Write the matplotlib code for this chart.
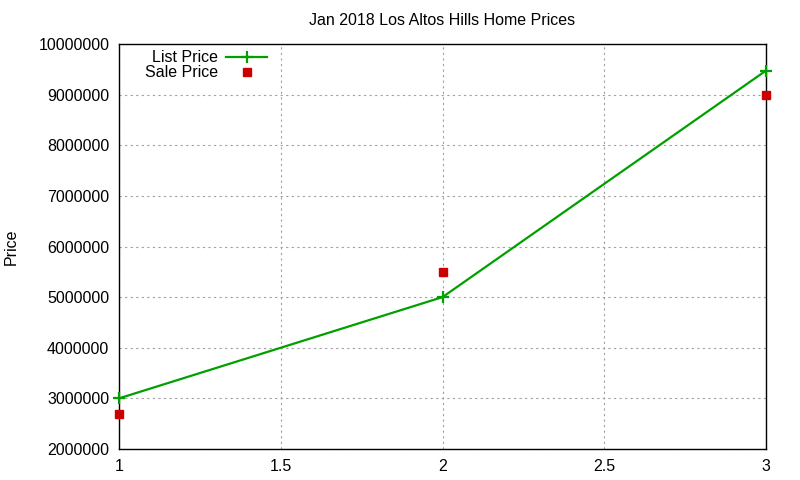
import matplotlib
matplotlib.use("Agg")
import matplotlib.pyplot as plt

plt.rcParams['font.family'] = ['Liberation Sans', 'DejaVu Sans']

# data
x = [1, 2, 3]
list_price = [3000000, 5000000, 9475000]
sale_price = [2700000, 5500000, 9000000]
yticks = [2000000, 3000000, 4000000, 5000000, 6000000, 7000000, 8000000, 9000000, 10000000]
xticks = [1, 1.5, 2, 2.5, 3]

fs = 11.5

fig = plt.figure(figsize=(8, 4.8), dpi=100)
ax = fig.add_axes([0.14875, 0.0646, 0.80875, 0.8437])

ax.plot(x, list_price, color='#00a000', lw=1.6, marker='+', ms=8, mew=1.6,
        label='List Price', clip_on=False, zorder=3)
ax.plot(x, sale_price, ls='none', color='#cc0000', marker='s', ms=6,
        label='Sale Price', clip_on=False, zorder=3)

ax.set_xlim(1, 3)
ax.set_ylim(2000000, 10000000)
ax.set_xticks(xticks)
ax.set_xticklabels(['1', '1.5', '2', '2.5', '3'])
ax.set_yticks(yticks)
ax.set_yticklabels([str(v) for v in yticks])
ax.tick_params(direction='in', length=0, labelsize=fs, pad=7)
ax.grid(True, color='#a0a0a0', ls=(0, (2, 3)), lw=0.8)
for s in ax.spines.values():
    s.set_linewidth(1.0)

ax.set_ylabel('Price', fontsize=fs, labelpad=14)
ax.set_title('Jan 2018 Los Altos Hills Home Prices', fontsize=fs, pad=14)

leg = ax.legend(loc='upper left', bbox_to_anchor=(0.025, 1.008), frameon=False,
                markerfirst=False, fontsize=fs, handlelength=2.6,
                handletextpad=0.5, labelspacing=0.0, borderaxespad=0.2)
for t in leg.get_texts():
    t.set_ha('right')
leg._legend_box.align = 'right'

fig.savefig('out.png', dpi=100)
